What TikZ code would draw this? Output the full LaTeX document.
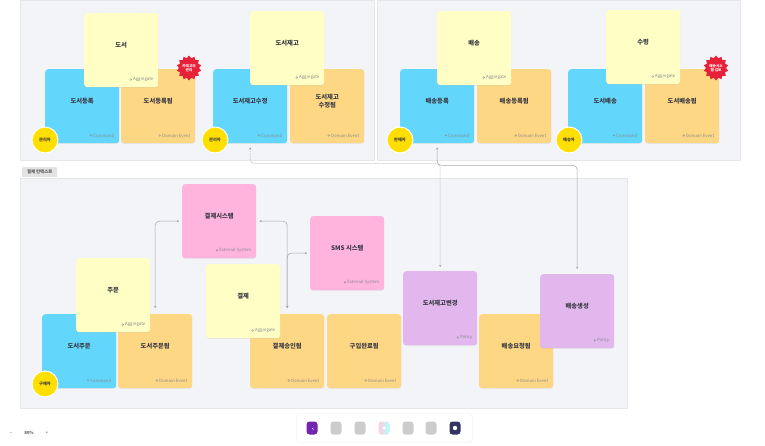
\documentclass[tikz,border=0pt]{standalone}
\usepackage{fontspec}
\setmainfont{Noto Sans CJK KR}
\usetikzlibrary{shapes.geometric,arrows.meta,calc,shadows}
\definecolor{cAgg}{HTML}{FFFEC4}
\definecolor{cCmd}{HTML}{62D6FB}
\definecolor{cEv}{HTML}{FED784}
\definecolor{cExt}{HTML}{FFB4DE}
\definecolor{cPol}{HTML}{E2B7EE}
\definecolor{cActor}{HTML}{FFDF00}
\definecolor{cBadge}{HTML}{E8213A}
\definecolor{cPanel}{HTML}{F3F4F7}
\definecolor{cPanelB}{HTML}{E6E7EB}
\definecolor{cLine}{HTML}{A3A6AD}
\definecolor{cTxt}{HTML}{3A3A44}
\definecolor{cSub}{HTML}{8A8A90}
\newcommand\stk[6]{%
  \node[sticky, fill=#4, anchor=north west] (#1) at (#2,#3) {};
  \node[stitle] at ([yshift=5pt]#1.center) {#5};
  \node[subt, anchor=east] (#1s) at ([xshift=-5pt,yshift=8pt]#1.south east) {#6};
  \draw[cSub, line width=0.3pt] ([xshift=-2.2pt]#1s.west) circle (0.9pt);
}
\begin{document}
\begin{tikzpicture}[x=1pt,y=-1pt,
  sticky/.style={rounded corners=3pt, minimum width=74pt, minimum height=74pt, inner sep=0pt,
    drop shadow={shadow xshift=0pt, shadow yshift=-0.7pt, opacity=0.12}},
  stitle/.style={font=\bfseries\fontsize{6.3}{7.6}\selectfont, text=cTxt, align=center, inner sep=0pt},
  subt/.style={font=\fontsize{4.3}{5}\selectfont, text=cSub, inner sep=0pt},
  actor/.style={circle, fill=cActor, draw=white, line width=1pt, minimum size=26pt, inner sep=0pt,
    font=\bfseries\fontsize{4.2}{5}\selectfont, text=cTxt},
  badge/.style={star, star points=14, star point ratio=1.25, fill=cBadge, minimum size=25pt, inner sep=0pt,
    font=\bfseries\fontsize{3.6}{4.2}\selectfont, text=white, align=center},
  panel/.style={fill=cPanel, draw=cPanelB, line width=0.4pt},
  conn/.style={draw=cLine, line width=0.5pt, rounded corners=4pt,
    {Stealth[length=2.2pt,width=2.4pt]}-{Stealth[length=2.2pt,width=2.4pt]}},
  dconn/.style={conn, dash pattern=on 1pt off 1pt},
  tool/.style={rounded corners=3pt, minimum width=11pt, minimum height=13pt, inner sep=0pt}
]
\fill[white] (0,0) rectangle (765,445);
\useasboundingbox (0,0) rectangle (765,445);
% panels
\node[panel, anchor=north west, minimum width=354pt, minimum height=160pt, inner sep=0pt] (panL) at (20,0) {};
\node[panel, anchor=north west, minimum width=363pt, minimum height=160pt, inner sep=0pt] (panR) at (377,0) {};
\node[panel, anchor=north west, minimum width=607pt, minimum height=230pt, inner sep=0pt] (panB) at (20,178) {};
\node[anchor=north west, fill=black!11, rounded corners=1pt, minimum width=35pt, minimum height=10pt, inner sep=0pt,
  font=\bfseries\fontsize{4.4}{5}\selectfont, text=black!65] (ctxLabel) at (22,167) {결제 컨텍스트};

% top-left
\stk{cmdA}{45}{69}{cCmd}{도서등록}{Command}
\stk{evA}{121}{69}{cEv}{도서등록됨}{Domain Event}
\stk{aggA}{84}{13}{cAgg}{도서}{Aggregate}
\stk{cmdB}{213}{69}{cCmd}{도서재고수정}{Command}
\stk{evB}{290}{69}{cEv}{도서재고\\수정됨}{Domain Event}
\stk{aggB}{250}{11}{cAgg}{도서재고}{Aggregate}
\node[actor] (actA) at (45,140) {관리자};
\node[actor] (actB) at (215,140) {관리자};
\node[badge] (badA) at (189,68) {카테고리\\관리};

% top-right
\stk{cmdC}{400}{69}{cCmd}{배송등록}{Command}
\stk{evC}{477}{69}{cEv}{배송등록됨}{Domain Event}
\stk{aggC}{437}{11}{cAgg}{배송}{Aggregate}
\stk{cmdD}{568}{69}{cCmd}{도서배송}{Command}
\stk{evD}{645}{69}{cEv}{도서배송됨}{Domain Event}
\stk{aggD}{606}{10}{cAgg}{수령}{Aggregate}
\node[actor] (actC) at (400,140) {판매자};
\node[actor] (actD) at (569,140) {배송자};
\node[badge] (badB) at (716,68) {배송시스\\템 검토};

% bottom
\stk{extA}{182}{184}{cExt}{결제시스템}{External System}
\stk{extB}{310}{216}{cExt}{SMS 시스템}{External System}
\stk{cmdE}{42}{314}{cCmd}{도서주문}{Command}
\stk{evE}{118}{314}{cEv}{도서주문됨}{Domain Event}
\stk{aggE}{76}{258}{cAgg}{주문}{Aggregate}
\stk{evF}{250}{314}{cEv}{결제승인됨}{Domain Event}
\stk{aggF}{206}{264}{cAgg}{결제}{Aggregate}
\stk{evG}{327}{314}{cEv}{구입완료됨}{Domain Event}
\stk{polA}{403}{271}{cPol}{도서재고변경}{Policy}
\stk{evH}{479}{314}{cEv}{배송요청됨}{Domain Event}
\stk{polB}{540}{274}{cPol}{배송생성}{Policy}
\node[actor] (actE) at (45,384) {구매자};

% connectors
\draw[conn] ([yshift=6pt]evE.north) |- ([xshift=-3pt]extA.west);
\draw[conn] ([xshift=3pt]extA.east) -| ([yshift=6pt]evF.north);
\draw[conn] ([yshift=6pt]evF.north) |- ([xshift=-3pt]extB.west);
\draw[dconn] ([yshift=-4pt]cmdB.south) -- ++(0,16) -| ([yshift=4pt]polA.north);
\draw[conn] ([yshift=-4pt]cmdC.south) -- ++(0,18) -| ([yshift=5pt]polB.north);

% toolbar
\node[fill=white, draw=black!6, rounded corners=4pt, minimum width=176pt, minimum height=29pt, inner sep=0pt,
  drop shadow={shadow xshift=0pt, shadow yshift=-0.5pt, opacity=0.08}] (toolbar) at (384.5,428) {};
\node[tool, fill=violet!70!blue!85] (t1) at (312,428) {};
\node[tool, fill=black!20] (t2) at (336,428) {};
\node[tool, fill=black!20] (t3) at (360,428) {};
\node[tool, left color=pink!90!magenta!60, right color=cyan!30] (t4) at (384,428) {};
\node[tool, fill=black!20] (t5) at (408,428) {};
\node[tool, fill=black!20] (t6) at (431,428) {};
\node[tool, fill=black!75!blue!80] (t7) at (455,428) {};
\draw[white, line width=0.6pt] (t1.center) -- ++(1.5,1.5);
\fill[white] (t4.center) circle (1.6pt);
\fill[white] (t7.center) circle (2.2pt);
% zoom control
\node[font=\fontsize{5}{6}\selectfont, text=black!60] (zm) at (11,433) {−};
\node[font=\bfseries\fontsize{4.3}{5}\selectfont, text=black!60] (zv) at (29,433) {80\%};
\node[font=\fontsize{5}{6}\selectfont, text=black!60] (zp) at (47,433) {+};
\end{tikzpicture}
\end{document}
